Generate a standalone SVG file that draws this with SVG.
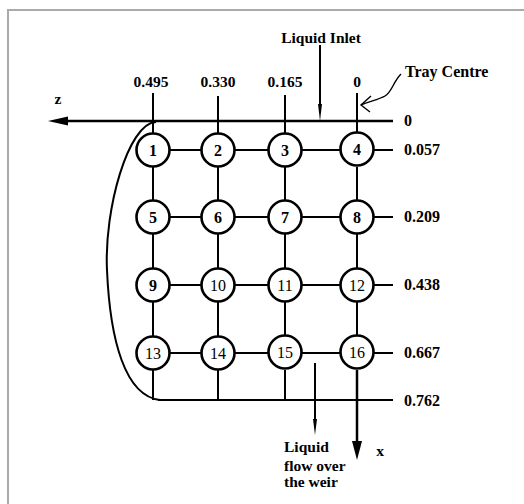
<svg xmlns="http://www.w3.org/2000/svg" width="524" height="504" viewBox="0 0 524 504">
<style>
.ln{stroke:#000;stroke-width:2;fill:none}
.ax{stroke:#000;stroke-width:2.5;fill:none}
.nd{fill:#fff;stroke:#000;stroke-width:2.6}
.lb{font-family:"Liberation Serif",serif;font-weight:bold;font-size:15.5px;fill:#000}
.rl{font-family:"Liberation Serif",serif;font-weight:bold;font-size:16px;fill:#000}
.nb{font-family:"Liberation Serif",serif;font-weight:bold;font-size:16px;fill:#000;text-anchor:middle;dominant-baseline:central}
.nr{font-family:"Liberation Serif",serif;font-size:16px;fill:#000;text-anchor:middle;dominant-baseline:central}
</style>
<rect width="524" height="504" fill="#fff"/>
<path d="M8,504 V10 H524" stroke="#aaa" stroke-width="2" fill="none"/>
<g id="connectors">
  <line class="ax" x1="393" y1="121" x2="62" y2="121"/>
  <polygon points="48,121 68,116.5 68,125.5" fill="#000"/>
  <line class="ln" x1="153" y1="93" x2="153" y2="133"/>
  <line class="ln" x1="218" y1="96" x2="218" y2="133"/>
  <line class="ln" x1="285" y1="95" x2="285" y2="133"/>
  <line class="ln" x1="357" y1="93" x2="357" y2="133"/>
  <line class="ln" x1="153" y1="167" x2="153" y2="200"/>
  <line class="ln" x1="218" y1="167" x2="218" y2="200"/>
  <line class="ln" x1="285" y1="167" x2="285" y2="200"/>
  <line class="ln" x1="357" y1="167" x2="357" y2="200"/>
  <line class="ln" x1="153" y1="234" x2="153" y2="268"/>
  <line class="ln" x1="218" y1="234" x2="218" y2="268"/>
  <line class="ln" x1="285" y1="234" x2="285" y2="268"/>
  <line class="ln" x1="357" y1="234" x2="357" y2="268"/>
  <line class="ln" x1="153" y1="302" x2="153" y2="336"/>
  <line class="ln" x1="218" y1="302" x2="218" y2="336"/>
  <line class="ln" x1="285" y1="302" x2="285" y2="336"/>
  <line class="ln" x1="357" y1="302" x2="357" y2="336"/>
  <line class="ln" x1="153" y1="370" x2="153" y2="400"/>
  <line class="ln" x1="218" y1="370" x2="218" y2="400"/>
  <line class="ln" x1="285" y1="370" x2="285" y2="400"/>
  <line class="ln" x1="170" y1="150" x2="201" y2="150"/>
  <line class="ln" x1="235" y1="150" x2="268" y2="150"/>
  <line class="ln" x1="302" y1="150" x2="340" y2="150"/>
  <line class="ln" x1="374" y1="150" x2="393" y2="150"/>
  <line class="ln" x1="170" y1="217" x2="201" y2="217"/>
  <line class="ln" x1="235" y1="217" x2="268" y2="217"/>
  <line class="ln" x1="302" y1="217" x2="340" y2="217"/>
  <line class="ln" x1="374" y1="217" x2="393" y2="217"/>
  <line class="ln" x1="170" y1="285" x2="201" y2="285"/>
  <line class="ln" x1="235" y1="285" x2="268" y2="285"/>
  <line class="ln" x1="302" y1="285" x2="340" y2="285"/>
  <line class="ln" x1="374" y1="285" x2="393" y2="285"/>
  <line class="ln" x1="170" y1="353" x2="201" y2="353"/>
  <line class="ln" x1="235" y1="353" x2="268" y2="353"/>
  <line class="ln" x1="302" y1="353" x2="340" y2="353"/>
  <line class="ln" x1="374" y1="353" x2="393" y2="353"/>
  <line class="ln" x1="158" y1="400" x2="393" y2="400"/>
  <path class="ln" d="M156,122 C128,123 104,210 107,270 C110,340 125,396 160,400"/>
  <line class="ax" x1="357" y1="370" x2="357" y2="445"/>
  <polygon points="357,460 352,441 362,441" fill="#000"/>
  <line class="ln" x1="320" y1="45" x2="320" y2="112"/>
  <polygon points="320,121 318,104 322,104" fill="#000"/>
  <line class="ln" x1="315" y1="363" x2="315" y2="425"/>
  <polygon points="315,435 313,419 317,419" fill="#000"/>
  <path d="M401,74 C393,82 392,92 385,96 C378,100 370,101 361,105" stroke="#000" stroke-width="1.4" fill="none"/>
  <path d="M371,96 L361,105 L370,112" stroke="#000" stroke-width="1.4" fill="none"/>
</g>
<g id="n1"><circle class="nd" cx="153" cy="150" r="16.5"/><text class="nb" x="153" y="150">1</text></g>
<g id="n2"><circle class="nd" cx="218" cy="150" r="16.5"/><text class="nb" x="218" y="150">2</text></g>
<g id="n3"><circle class="nd" cx="285" cy="150" r="16.5"/><text class="nb" x="285" y="150">3</text></g>
<g id="n4"><circle class="nd" cx="357" cy="149" r="16.5"/><text class="nb" x="357" y="149">4</text></g>
<g id="n5"><circle class="nd" cx="153" cy="217" r="16.5"/><text class="nb" x="153" y="217">5</text></g>
<g id="n6"><circle class="nd" cx="218" cy="217" r="16.5"/><text class="nb" x="218" y="217">6</text></g>
<g id="n7"><circle class="nd" cx="285" cy="217" r="16.5"/><text class="nb" x="285" y="217">7</text></g>
<g id="n8"><circle class="nd" cx="357" cy="217" r="16.5"/><text class="nb" x="357" y="217">8</text></g>
<g id="n9"><circle class="nd" cx="153" cy="285" r="16.5"/><text class="nb" x="153" y="285">9</text></g>
<g id="n10"><circle class="nd" cx="218" cy="285" r="16.5"/><text class="nr" x="218" y="285">10</text></g>
<g id="n11"><circle class="nd" cx="285" cy="285" r="16.5"/><text class="nr" x="285" y="285">11</text></g>
<g id="n12"><circle class="nd" cx="357" cy="285" r="16.5"/><text class="nr" x="357" y="285">12</text></g>
<g id="n13"><circle class="nd" cx="153" cy="353" r="16.5"/><text class="nr" x="153" y="353">13</text></g>
<g id="n14"><circle class="nd" cx="218" cy="353" r="16.5"/><text class="nr" x="218" y="353">14</text></g>
<g id="n15"><circle class="nd" cx="285" cy="352" r="16.5"/><text class="nr" x="285" y="352">15</text></g>
<g id="n16"><circle class="nd" cx="357" cy="352" r="16.5"/><text class="nr" x="357" y="352">16</text></g>
<g id="labels">
  <text class="lb" x="321" y="43" text-anchor="middle">Liquid Inlet</text>
  <text class="rl" x="405" y="77">Tray Centre</text>
  <text class="lb" x="151" y="87" text-anchor="middle">0.495</text>
  <text class="lb" x="218" y="87" text-anchor="middle">0.330</text>
  <text class="lb" x="285" y="87" text-anchor="middle">0.165</text>
  <text class="lb" x="357" y="87" text-anchor="middle">0</text>
  <text class="lb" x="58" y="104" text-anchor="middle">z</text>
  <text class="rl" x="404" y="126">0</text>
  <text class="rl" x="404" y="155">0.057</text>
  <text class="rl" x="404" y="222">0.209</text>
  <text class="rl" x="404" y="290">0.438</text>
  <text class="rl" x="404" y="358">0.667</text>
  <text class="rl" x="404" y="406">0.762</text>
  <text class="lb" x="380" y="456" text-anchor="middle">x</text>
  <text class="lb" x="284" y="452">Liquid</text>
  <text class="lb" x="284" y="471">flow over</text>
  <text class="lb" x="284" y="487">the weir</text>
</g>
</svg>
